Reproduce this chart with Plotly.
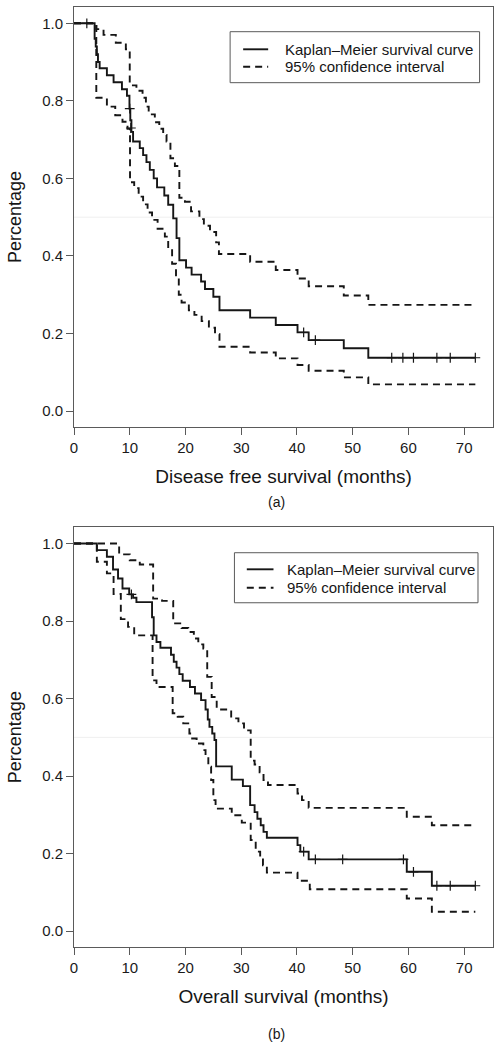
import plotly.graph_objects as go

# ---------------- data ----------------
# (a) Disease free survival
dfs_km_t = [0, 3.7, 3.9, 4.1, 4.3, 4.6, 5.9, 7.1, 8.6, 9.5, 9.95, 10.1, 10.3, 10.6, 11.8, 12.4, 13.0, 13.6,
            14.3, 14.9, 16.2, 16.9, 17.8, 18.4, 18.9, 20.1, 21.1, 22.8, 23.5, 25.0, 26.1, 31.6, 36.2, 40.1,
            42.1, 48.4, 52.8, 72.0]
dfs_km_s = [1.0, 0.96, 0.94, 0.92, 0.90, 0.884, 0.866, 0.848, 0.830, 0.813, 0.78, 0.75, 0.72, 0.695, 0.678,
            0.66, 0.642, 0.622, 0.60, 0.577, 0.556, 0.532, 0.497, 0.446, 0.389, 0.37, 0.352, 0.334, 0.315,
            0.295, 0.26, 0.241, 0.222, 0.203, 0.183, 0.162, 0.1375, 0.1375]
dfs_up_t = [0, 4.0, 5.3, 7.5, 9.3, 10.0, 11.2, 12.3, 12.9, 13.4, 14.5, 15.3, 16.0, 16.6, 17.3, 18.1, 18.9,
            19.9, 21.0, 22.5, 23.3, 24.4, 25.5, 26.0, 31.6, 36.2, 40.1, 42.1, 48.4, 52.8, 72.0]
dfs_up_s = [1.0, 0.985, 0.97, 0.95, 0.933, 0.84, 0.826, 0.808, 0.785, 0.765, 0.745, 0.728, 0.712, 0.695,
            0.652, 0.632, 0.55, 0.54, 0.515, 0.495, 0.478, 0.462, 0.435, 0.405, 0.385, 0.364, 0.342, 0.322,
            0.298, 0.274, 0.274]
dfs_lo_t = [0, 4.0, 5.9, 7.4, 8.7, 9.6, 10.05, 10.8, 11.6, 12.4, 13.2, 14.0, 15.0, 16.3, 16.9, 17.6, 18.3,
            18.8, 19.3, 20.6, 21.6, 22.9, 24.2, 25.3, 26.1, 31.6, 36.2, 40.1, 42.1, 48.4, 52.8, 72.0]
dfs_lo_s = [1.0, 0.808, 0.785, 0.763, 0.746, 0.728, 0.59, 0.575, 0.553, 0.533, 0.512, 0.493, 0.47, 0.45,
            0.415, 0.38, 0.35, 0.30, 0.28, 0.26, 0.248, 0.232, 0.215, 0.198, 0.166, 0.151, 0.136, 0.119,
            0.104, 0.087, 0.069, 0.069]
dfs_cens_t = [2.3, 10.0, 10.2, 41.2, 43.3, 57.0, 59.0, 60.9, 65.1, 67.5, 72.0]
dfs_cens_s = [1.0, 0.78, 0.73, 0.203, 0.183, 0.1375, 0.1375, 0.1375, 0.1375, 0.1375, 0.1375]

# (b) Overall survival
os_km_t = [0, 4.1, 5.9, 7.0, 7.9, 8.7, 9.9, 10.6, 11.2, 14.0, 14.3, 14.8, 15.5, 17.4, 17.9, 18.4, 18.9,
           19.5, 20.8, 21.7, 22.8, 23.6, 24.0, 24.3, 24.8, 25.2, 25.5, 28.3, 30.3, 31.6, 32.4, 32.9, 33.5,
           34.0, 34.6, 40.1, 40.6, 42.1, 59.7, 64.2, 72.0]
os_km_s = [1.0, 0.983, 0.966, 0.933, 0.91, 0.884, 0.869, 0.86, 0.849, 0.81, 0.763, 0.746, 0.731, 0.713,
           0.695, 0.68, 0.663, 0.646, 0.63, 0.613, 0.596, 0.572, 0.546, 0.527, 0.51, 0.493, 0.425, 0.391,
           0.374, 0.325, 0.307, 0.29, 0.273, 0.256, 0.241, 0.222, 0.205, 0.185, 0.153, 0.117, 0.117]
os_up_t = [0, 8.1, 10.0, 11.8, 14.2, 15.8, 17.8, 19.3, 20.5, 21.5, 22.3, 23.2, 23.9, 24.7, 25.6, 28.2, 29.5,
           30.5, 31.7, 32.4, 33.3, 34.0, 34.8, 40.1, 40.9, 42.1, 59.7, 64.2, 72.0]
os_up_s = [1.0, 0.972, 0.957, 0.946, 0.858, 0.852, 0.794, 0.782, 0.772, 0.755, 0.74, 0.729, 0.656, 0.604,
           0.572, 0.549, 0.536, 0.518, 0.44, 0.43, 0.41, 0.39, 0.377, 0.355, 0.338, 0.318, 0.295, 0.273, 0.273]
os_lo_t = [0, 4.1, 5.9, 7.1, 8.4, 9.7, 10.8, 14.1, 14.8, 17.7, 18.6, 19.6, 20.7, 21.2, 22.0, 23.2, 23.6,
           24.1, 24.6, 25.0, 25.4, 28.3, 30.1, 31.7, 32.6, 33.4, 33.9, 34.6, 40.1, 42.3, 59.7, 64.2, 72.0]
os_lo_s = [1.0, 0.953, 0.923, 0.870, 0.805, 0.785, 0.763, 0.647, 0.63, 0.562, 0.553, 0.536, 0.51, 0.497,
           0.484, 0.467, 0.45, 0.424, 0.39, 0.338, 0.316, 0.299, 0.28, 0.235, 0.205, 0.19, 0.17, 0.151, 0.13,
           0.108, 0.084, 0.05, 0.05]
os_cens_t = [10.3, 41.2, 43.3, 48.2, 59.1, 60.9, 65.1, 67.5, 72.0]
os_cens_s = [0.869, 0.205, 0.185, 0.185, 0.185, 0.153, 0.117, 0.117, 0.117]

x_ticks = [0, 10, 20, 30, 40, 50, 60, 70]
y_ticks = [0.0, 0.2, 0.4, 0.6, 0.8, 1.0]
legend_labels = ["Kaplan\u2013Meier survival curve", "95% confidence interval"]
x_titles = ["Disease free survival (months)", "Overall survival (months)"]
panel_labels = ["(a)", "(b)"]

# ---------------- figure ----------------
FONT = "Liberation Sans, Arial, Helvetica, sans-serif"
INK = "#161616"
DASH = "7px,5px"

fig = go.Figure()

panels = [
    ("x", "y", dfs_km_t, dfs_km_s, dfs_up_t, dfs_up_s, dfs_lo_t, dfs_lo_s, dfs_cens_t, dfs_cens_s),
    ("x2", "y2", os_km_t, os_km_s, os_up_t, os_up_s, os_lo_t, os_lo_s, os_cens_t, os_cens_s),
]
for xa, ya, kt, ks, ut, us, lt, ls, ct, cs in panels:
    fig.add_trace(go.Scatter(x=ut, y=us, mode="lines", line=dict(shape="hv", color=INK, width=1.9, dash=DASH),
                             xaxis=xa, yaxis=ya, showlegend=False, hoverinfo="skip"))
    fig.add_trace(go.Scatter(x=lt, y=ls, mode="lines", line=dict(shape="hv", color=INK, width=1.9, dash=DASH),
                             xaxis=xa, yaxis=ya, showlegend=False, hoverinfo="skip"))
    fig.add_trace(go.Scatter(x=kt, y=ks, mode="lines", line=dict(shape="hv", color=INK, width=1.9),
                             xaxis=xa, yaxis=ya, showlegend=False))
    fig.add_trace(go.Scatter(x=ct, y=cs, mode="markers",
                             marker=dict(symbol="cross-thin", size=7, line=dict(color=INK, width=1.2)),
                             xaxis=xa, yaxis=ya, showlegend=False))

axis_common = dict(showline=True, mirror=True, linecolor="#5a5a5a", linewidth=1, ticks="outside",
                   ticklen=7, tickcolor="#5a5a5a", tickwidth=1, showgrid=False, zeroline=False,
                   tickfont=dict(family=FONT, size=15, color="#1a1a1a"), automargin=False)

fig.update_layout(
    width=498, height=1050,
    margin=dict(l=74, r=5, t=7, b=103),
    paper_bgcolor="white", plot_bgcolor="white",
    showlegend=False,
    xaxis=dict(domain=[0, 1], range=[0, 75.17], tickvals=x_ticks, anchor="y",
               title=dict(text=x_titles[0], font=dict(family=FONT, size=19, color=INK), standoff=14),
               **axis_common),
    yaxis=dict(domain=[0.5532, 1.0], range=[-0.041, 1.042], tickvals=y_ticks, tickformat=".1f", anchor="x",
               title=dict(text="Percentage", font=dict(family=FONT, size=18, color=INK), standoff=15),
               **axis_common),
    xaxis2=dict(domain=[0, 1], range=[0, 75.17], tickvals=x_ticks, anchor="y2",
                title=dict(text=x_titles[1], font=dict(family=FONT, size=19, color=INK), standoff=14),
                **axis_common),
    yaxis2=dict(domain=[0.0, 0.4465], range=[-0.041, 1.042], tickvals=y_ticks, tickformat=".1f", anchor="x2",
                title=dict(text="Percentage", font=dict(family=FONT, size=18, color=INK), standoff=15),
                **axis_common),
)

# faint reference line at 0.5 and hand-made legend boxes
legend_geo = [
    # xref, yref, data yref, box x0,x1,y0,y1, sample x0,x1, text x, row y1,y2
    ("x domain", "y domain", "y", 0.3726, 0.968, 0.8198, 0.9412, 0.4037, 0.4634, 0.4985, 0.8993, 0.8579),
    ("x2 domain", "y2 domain", "y2", 0.3829, 0.9642, 0.8202, 0.9394, 0.4124, 0.4761, 0.5039, 0.8999, 0.8560),
]
shapes = []
annotations = []
for (xr, yr, ydata, bx0, bx1, by0, by1, sx0, sx1, tx, r1, r2) in legend_geo:
    shapes.append(dict(type="line", xref=xr, yref=ydata, x0=0, x1=1, y0=0.5, y1=0.5,
                       line=dict(color="#efefef", width=1), layer="below"))
    shapes.append(dict(type="rect", xref=xr, yref=yr, x0=bx0, x1=bx1, y0=by0, y1=by1,
                       line=dict(color="#5a5a5a", width=1), fillcolor="white"))
    shapes.append(dict(type="line", xref=xr, yref=yr, x0=sx0, x1=sx1, y0=r1, y1=r1,
                       line=dict(color=INK, width=1.9)))
    shapes.append(dict(type="line", xref=xr, yref=yr, x0=sx0, x1=sx1, y0=r2, y1=r2,
                       line=dict(color=INK, width=1.9, dash=DASH)))
    for txt, ry in zip(legend_labels, (r1, r2)):
        annotations.append(dict(xref=xr, yref=yr, x=tx, y=ry, text=txt, showarrow=False, xanchor="left",
                                yanchor="middle", font=dict(family=FONT, size=15, color=INK)))

annotations.append(dict(xref="paper", yref="paper", x=0.4824, y=0.4736, text=panel_labels[0], showarrow=False,
                        xanchor="center", yanchor="middle", font=dict(family=FONT, size=14, color=INK)))
annotations.append(dict(xref="paper", yref="paper", x=0.4824, y=-0.0929, text=panel_labels[1], showarrow=False,
                        xanchor="center", yanchor="middle", font=dict(family=FONT, size=14, color=INK)))

fig.update_layout(shapes=shapes, annotations=annotations)
fig.write_html("out.html", config={"displayModeBar": False},
               post_script="document.body.style.margin='0';document.body.style.padding='0';")
